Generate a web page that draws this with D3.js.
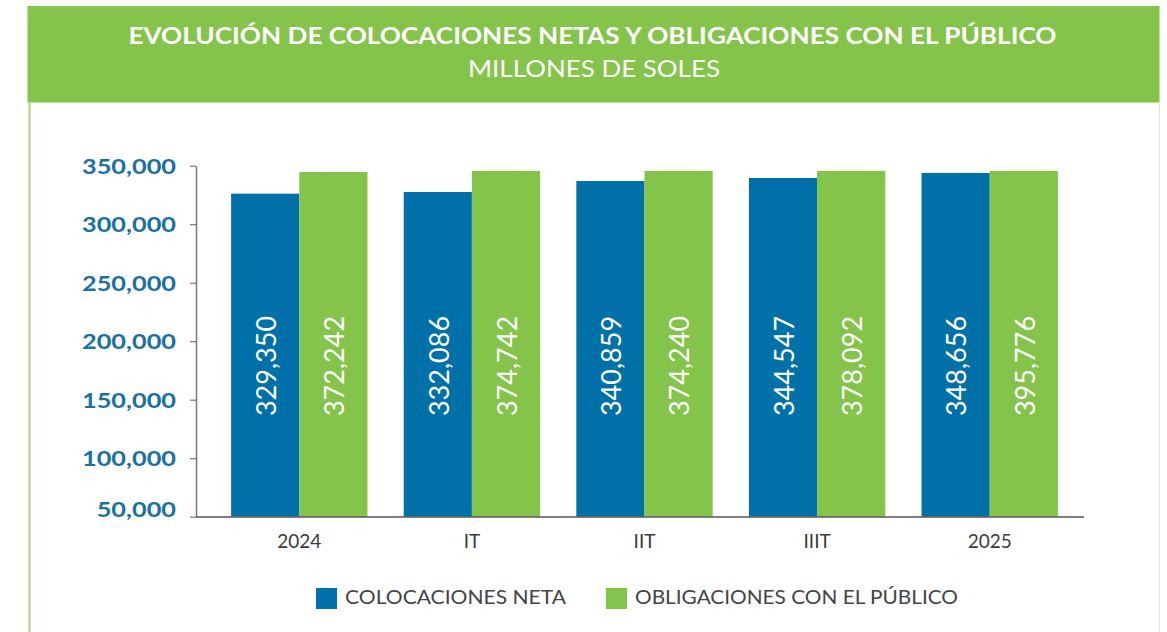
<!DOCTYPE html>
<html>
<head>
<meta charset="utf-8">
<script src="https://cdn.jsdelivr.net/npm/d3@7"></script>
<style>
  html, body { margin: 0; padding: 0; background: #ffffff; }
  svg { display: block; }
</style>
</head>
<body>
<svg id="chart" width="1167" height="632"></svg>
<script>
// ---- data ----
const categories = ["2024", "IT", "IIT", "IIIT", "2025"];
const seriesNames = ["COLOCACIONES NETA", "OBLIGACIONES CON EL PÚBLICO"];
// values printed on the bars
const colocaciones = [329350, 332086, 340859, 344547, 348656];
const obligaciones = [372242, 374742, 374240, 378092, 395776];
// bar heights as drawn in the picture
const colocacionesBar = [326100, 327500, 336900, 339500, 343800];
const obligacionesBar = [344600, 345500, 345500, 345500, 345500];
const yTicks = [50000, 100000, 150000, 200000, 250000, 300000, 350000];
const titleText = "EVOLUCIÓN DE COLOCACIONES NETAS Y OBLIGACIONES CON EL PÚBLICO";
const subtitleText = "MILLONES DE SOLES";

const BLUE = "#0070a8";
const GREEN = "#84c44a";
const TICK_BLUE = "#1a70a3";

const svg = d3.select("#chart");

function fit(sel, w) {
  sel.attr("textLength", w).attr("lengthAdjust", "spacingAndGlyphs");
  return sel;
}

// ---- header band ----
svg.append("rect").attr("x", 27.5).attr("y", 6).attr("width", 1132).attr("height", 96.5).attr("fill", GREEN);
svg.append("line").attr("x1", 29.5).attr("x2", 29.5).attr("y1", 102).attr("y2", 632)
  .attr("stroke", "#a8d67c").attr("stroke-width", 2);
svg.append("line").attr("x1", 1159.5).attr("x2", 1159.5).attr("y1", 102).attr("y2", 632)
  .attr("stroke", "#e4e4e4").attr("stroke-width", 1);

fit(svg.append("text").attr("x", 592.5).attr("y", 44.3).attr("text-anchor", "middle")
  .attr("font-family", "Lato, 'Open Sans', sans-serif").attr("font-weight", "bold")
  .attr("font-size", 22.5).attr("fill", "#ffffff").text(titleText), 928);
fit(svg.append("text").attr("x", 594).attr("y", 77).attr("text-anchor", "middle")
  .attr("font-family", "Lato, 'Open Sans', sans-serif").attr("font-weight", "normal")
  .attr("font-size", 23.5).attr("fill", "#ffffff").text(subtitleText), 252);

// ---- scales ----
const y = d3.scaleLinear().domain([50000, 350000]).range([516.7, 165.7]);
const x0 = d3.scaleBand().domain(categories).range([213, 1076]).paddingInner(0.21).paddingOuter(0.105);
const x1 = d3.scaleBand().domain([0, 1]).range([0, x0.bandwidth()]);

// ---- y axis ----
const yAxis = svg.append("g").attr("transform", "translate(196,0)")
  .call(d3.axisLeft(y).tickValues(yTicks).tickSize(6).tickSizeOuter(0).tickPadding(14)
    .tickFormat(d3.format(",")));
yAxis.select(".domain").attr("stroke", "#777").attr("stroke-width", 1.5);
yAxis.selectAll(".tick line").attr("stroke", "#777").attr("stroke-width", 1.2);
const tickTexts = yAxis.selectAll(".tick text")
  .attr("font-family", "Lato, 'Open Sans', sans-serif").attr("font-weight", "bold")
  .attr("font-size", 21.5).attr("fill", TICK_BLUE)
  .attr("dy", d => d === yTicks[0] ? "0.0em" : "0.34em");
// widen glyphs uniformly (geometric face look): longest label -> 94px
let maxLen = 0;
tickTexts.each(function () { maxLen = Math.max(maxLen, this.getComputedTextLength()); });
const widen = 94 / maxLen;
tickTexts.each(function () { fit(d3.select(this), this.getComputedTextLength() * widen); });

// ---- bars ----
const rows = categories.map((c, i) => ({
  cat: c,
  vals: [
    { s: 0, bar: colocacionesBar[i], label: colocaciones[i] },
    { s: 1, bar: obligacionesBar[i], label: obligaciones[i] }
  ]
}));
const colors = [BLUE, GREEN];

const groups = svg.append("g").selectAll("g").data(rows).join("g")
  .attr("transform", d => `translate(${x0(d.cat)},0)`);
groups.selectAll("rect").data(d => d.vals).join("rect")
  .attr("x", d => x1(d.s))
  .attr("y", d => y(d.bar))
  .attr("width", x1.bandwidth())
  .attr("height", d => y(50000) - y(d.bar))
  .attr("fill", d => colors[d.s]);

const labelY = 366;
groups.selectAll("text").data(d => d.vals).join("text")
  .attr("transform", d => `translate(${x1(d.s) + x1.bandwidth() / 2 + 1},${labelY}) rotate(-90)`)
  .attr("text-anchor", "middle").attr("dy", "0.36em")
  .attr("font-family", "Lato, 'Open Sans', sans-serif").attr("font-size", 27)
  .attr("fill", "#ffffff")
  .text(d => d3.format(",")(d.label));

// ---- x axis ----
svg.append("line").attr("x1", 196).attr("x2", 1084).attr("y1", 517).attr("y2", 517)
  .attr("stroke", "#555").attr("stroke-width", 1.5);
const xAxis = svg.append("g").attr("transform", "translate(0,517)")
  .call(d3.axisBottom(x0).tickSize(0).tickPadding(18));
xAxis.select(".domain").remove();
xAxis.selectAll(".tick text")
  .attr("font-family", "Lato, 'Open Sans', sans-serif").attr("font-size", 19)
  .attr("fill", "#3a3a3a").attr("dy", "0.71em");

// ---- legend ----
const legendItems = [
  { name: seriesNames[0], color: BLUE, x: 316, w: 221 },
  { name: seriesNames[1], color: GREEN, x: 606, w: 323 }
];
const lg = svg.append("g").selectAll("g").data(legendItems).join("g")
  .attr("transform", d => `translate(${d.x},588)`);
lg.append("rect").attr("width", 21).attr("height", 21).attr("fill", d => d.color);
lg.append("text").attr("x", 29).attr("y", 15.5)
  .attr("font-family", "Lato, 'Open Sans', sans-serif").attr("font-size", 19)
  .attr("fill", "#444").text(d => d.name)
  .each(function (d) { fit(d3.select(this), d.w); });
</script>
</body>
</html>
